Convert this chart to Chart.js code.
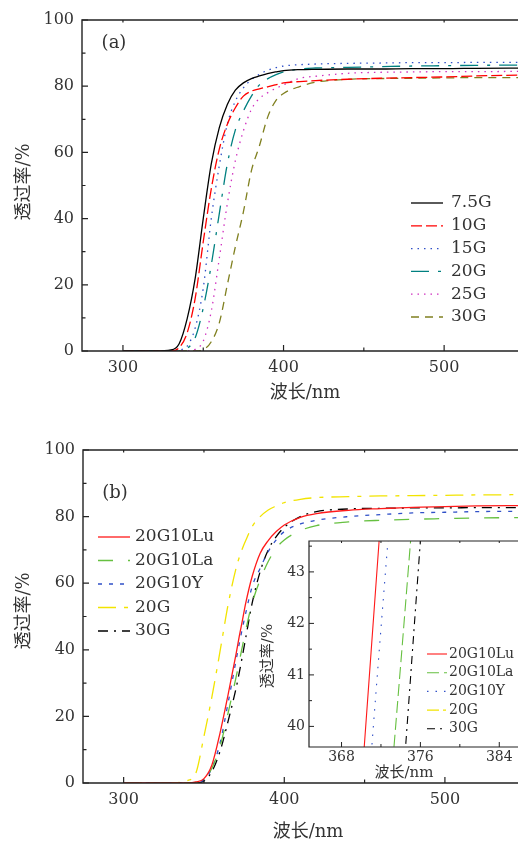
<!DOCTYPE html>
<html><head><meta charset="utf-8">
<script src="https://cdn.jsdelivr.net/npm/chart.js@4.4.1/dist/chart.umd.min.js"></script>
<style>
html,body{margin:0;padding:0;background:#fff;}
#wrap{position:relative;width:518px;height:843px;overflow:hidden;background:#fff;}
canvas{position:absolute;left:0;top:0;}
</style></head><body>
<div id="wrap">
<canvas id="ca" width="518" height="843"></canvas>
<canvas id="cb" width="518" height="843"></canvas>
<canvas id="ci" width="518" height="843"></canvas>
</div>
<script>
// ---------- data: panel (a) ----------
const wlA   = [300, 320, 330, 335, 340, 345, 350, 355, 360, 365, 370, 375, 380, 385, 390, 395, 400, 410, 420, 440, 460, 480, 500, 520, 550];
const a75G  = [0, 0, 0.3, 2.2, 9.8, 22, 40, 56.5, 67.5, 74.5, 78.8, 81, 82.3, 83.1, 83.8, 84.3, 84.7, 85.0, 85.1, 85.2, 85.2, 85.3, 85.3, 85.4, 85.5];
const a10G  = [0, 0, 0, 1, 5.5, 16, 33, 49, 61, 68.5, 73.5, 77, 78.5, 79.2, 79.8, 80.4, 81, 81.4, 81.7, 82.1, 82.4, 82.6, 82.8, 83.1, 83.4];
const a15G  = [0, 0, 0, 0.3, 1.5, 7, 19, 40, 56, 68.5, 75.5, 79.5, 82, 83.6, 84.8, 85.6, 86.1, 86.5, 86.7, 86.9, 87, 87.1, 87.1, 87.2, 87.2];
const a20G  = [0, 0, 0, 0, 0.8, 4, 13, 26, 41.5, 56.5, 66.8, 72.5, 77, 80.4, 82.2, 83.4, 84.3, 85.2, 85.5, 85.7, 85.9, 86.1, 86.2, 86.3, 86.4];
const a25G  = [0, 0, 0, 0, 0, 0.5, 3, 12, 28, 44.5, 57.5, 66.5, 73, 76.3, 78, 79.3, 80.4, 82.4, 83, 83.9, 84.2, 84.3, 84.4, 84.4, 84.5];
const a30G  = [0, 0, 0, 0, 0, 0, 0.4, 2.8, 8.5, 20, 31.5, 42, 54.5, 62, 70.5, 75.5, 77.8, 79.9, 81.2, 82.1, 82.3, 82.4, 82.5, 82.6, 82.6];
const labelsA = ['7.5G', '10G', '15G', '20G', '25G', '30G'];

// ---------- data: panel (b) ----------
const wlB    = [300, 320, 330, 340, 345, 350, 355, 360, 365, 370, 372, 374, 376, 380, 385, 390, 395, 400, 410, 420, 440, 460, 480, 500, 520, 550];
const bLu    = [0, 0, 0, 0, 0.3, 1.3, 5.5, 15, 26.5, 38.8, 44.1, 49, 54, 62, 69, 72.8, 75.5, 77.5, 79.8, 80.9, 81.9, 82.4, 82.8, 83, 83.2, 83.3];
const bLa    = [0, 0, 0, 0, 0.2, 1.2, 4.5, 11, 21, 31.8, 36.5, 41.2, 45.9, 54, 61, 66.5, 70.5, 73, 75.8, 77.3, 78.4, 78.9, 79.2, 79.4, 79.6, 79.7];
const bY     = [0, 0, 0, 0, 0.2, 1, 4.5, 12, 24, 36.9, 41.9, 46.6, 51, 59, 64.5, 69.5, 73, 75.5, 77.8, 78.9, 80, 80.6, 81.1, 81.3, 81.5, 81.6];
const b20G   = [0, 0, 0.1, 0.8, 3, 14, 26, 39.5, 53.5, 64.5, 67.8, 70.5, 72.8, 77, 80, 82, 83.2, 84.2, 85.2, 85.7, 86, 86.2, 86.3, 86.4, 86.5, 86.6];
const b30G   = [0, 0, 0, 0, 0, 0.6, 3.5, 9.5, 18.5, 28.5, 33.2, 38.3, 43.6, 54, 63.5, 70, 74, 76.8, 80, 81.5, 82.3, 82.5, 82.6, 82.6, 82.7, 82.7];
const labelsB = ['20G10Lu', '20G10La', '20G10Y', '20G', '30G'];

// ---------- ticks ----------
const xTicks = [300, 400, 500];
const xMinor = [350, 450];
const yTicks = [0, 20, 40, 60, 80, 100];
const yMinor = [10, 30, 50, 70, 90];
const inXTicks = [368, 376, 384];
const inXMinor = [372, 380];
const inYTicks = [40, 41, 42, 43];
const inYMinor = [40.5, 41.5, 42.5, 43.5];

const xTitle = '波长/nm';
const yTitle = '透过率/%';

const FONT = "'DejaVu Serif', 'Noto Sans CJK SC', serif";
const TXT = '#333';
const AX = '#222';

function xy(xs, ys) { return xs.map((x, i) => ({ x: x, y: ys[i] })); }

// frame + inward ticks drawn through the scales
const framePlugin = {
  id: 'frame',
  afterDatasetsDraw(chart, args, o) {
    const { ctx, chartArea: a } = chart;
    const sx = chart.scales.x, sy = chart.scales.y;
    ctx.save();
    ctx.strokeStyle = AX; ctx.lineWidth = o.lw; ctx.setLineDash([]);
    ctx.beginPath();
    ctx.moveTo(a.right + 2, a.top); ctx.lineTo(a.left, a.top);
    ctx.lineTo(a.left, a.bottom); ctx.lineTo(a.right + 2, a.bottom);
    ctx.stroke();
    ctx.lineWidth = o.tw;
    ctx.beginPath();
    o.xMajor.forEach(v => { const p = sx.getPixelForValue(v);
      ctx.moveTo(p, a.bottom); ctx.lineTo(p, a.bottom - o.major);
      ctx.moveTo(p, a.top); ctx.lineTo(p, a.top + o.top); });
    o.xMinor.forEach(v => { const p = sx.getPixelForValue(v);
      ctx.moveTo(p, a.bottom); ctx.lineTo(p, a.bottom - o.minor);
      ctx.moveTo(p, a.top); ctx.lineTo(p, a.top + o.top); });
    o.yMajor.forEach(v => { const p = sy.getPixelForValue(v);
      ctx.moveTo(a.left, p); ctx.lineTo(a.left + o.major, p); });
    o.yMinor.forEach(v => { const p = sy.getPixelForValue(v);
      ctx.moveTo(a.left, p); ctx.lineTo(a.left + o.minor, p); });
    ctx.stroke();
    ctx.restore();
  }
};

// legend drawn inside the plot from dataset styles
const legendPlugin = {
  id: 'inLegend',
  afterDraw(chart, args, o) {
    const ctx = chart.ctx;
    ctx.save();
    chart.data.datasets.forEach((ds, i) => {
      const y = o.y + i * o.gap;
      ctx.strokeStyle = ds.borderColor; ctx.lineWidth = ds.borderWidth;
      ctx.setLineDash(ds.borderDash || []);
      ctx.beginPath(); ctx.moveTo(o.x, y); ctx.lineTo(o.x + o.len, y); ctx.stroke();
      ctx.setLineDash([]);
      ctx.fillStyle = TXT; ctx.font = o.size + 'px ' + FONT;
      ctx.textBaseline = 'middle'; ctx.textAlign = 'left';
      ctx.fillText(ds.label, o.x + o.len + o.pad, y);
    });
    ctx.restore();
  }
};

// panel tag and axis titles
const textPlugin = {
  id: 'texts',
  afterDraw(chart, args, o) {
    const ctx = chart.ctx;
    (o.items || []).forEach(t => {
      ctx.save();
      ctx.fillStyle = TXT; ctx.font = t.size + 'px ' + FONT;
      ctx.textAlign = 'center'; ctx.textBaseline = 'middle';
      ctx.translate(t.x, t.y);
      if (t.rot) ctx.rotate(-Math.PI / 2);
      ctx.fillText(t.text, 0, 0);
      ctx.restore();
    });
  }
};

const bgPlugin = {
  id: 'areaBg',
  beforeDatasetsDraw(chart, args, o) {
    if (!o.fill) return;
    const { ctx, chartArea: a } = chart;
    ctx.save(); ctx.fillStyle = '#fff';
    ctx.fillRect(a.left, a.top, a.right - a.left, a.bottom - a.top);
    ctx.restore();
  }
};

function makeChart(id, c) {
  return new Chart(document.getElementById(id), {
    type: 'line',
    data: { datasets: c.datasets },
    plugins: [bgPlugin, framePlugin, legendPlugin, textPlugin],
    options: {
      responsive: false, animation: false, devicePixelRatio: 1,
      layout: { padding: c.pad },
      elements: { point: { radius: 0 }, line: { cubicInterpolationMode: 'monotone' } },
      plugins: {
        legend: { display: false }, tooltip: { enabled: false },
        frame: c.frame, inLegend: c.legend, texts: { items: c.texts }, areaBg: { fill: !!c.fill }
      },
      scales: {
        x: {
          type: 'linear', min: c.xmin, max: c.xmax,
          afterBuildTicks: s => { s.ticks = c.xt.map(v => ({ value: v })); },
          afterFit: s => { s.height = c.xh; },
          grid: { display: false, drawTicks: false }, border: { display: false },
          ticks: { font: { family: FONT, size: c.tf }, color: TXT, padding: c.xpad, maxRotation: 0, autoSkip: false, callback: v => String(v) },
          title: { display: false }
        },
        y: {
          type: 'linear', min: c.ymin, max: c.ymax,
          afterBuildTicks: s => { s.ticks = c.yt.map(v => ({ value: v })); },
          afterFit: s => { s.width = c.yw; },
          grid: { display: false, drawTicks: false }, border: { display: false },
          ticks: { font: { family: FONT, size: c.tf }, color: TXT, padding: c.ypad, autoSkip: false, callback: v => String(v) },
          title: { display: false }
        }
      }
    }
  });
}

const LW = 1.3, LWI = 1.1;

// ---------- panel (a) ----------
const stylesA = [
  { c: '#000000', d: [] },
  { c: '#ff0000', d: [11, 4] },
  { c: '#3050c8', d: [1.5, 5] },
  { c: '#008080', d: [18, 9, 3, 9] },
  { c: '#d030c0', d: [1.5, 5] },
  { c: '#808020', d: [8, 6] }
];
const seriesA = [a75G, a10G, a15G, a20G, a25G, a30G];
makeChart('ca', {
  datasets: seriesA.map((s, i) => ({ label: labelsA[i], data: xy(wlA, s), borderColor: stylesA[i].c, borderDash: stylesA[i].d, borderWidth: LW, fill: false })),
  pad: { left: 0, top: 20, right: 0, bottom: 423 },
  xmin: 274.5, xmax: 546, ymin: 0, ymax: 100, xt: xTicks, yt: yTicks,
  xh: 69, yw: 82, tf: 16, xpad: 7, ypad: 8,
  frame: { lw: 1.4, tw: 1.2, major: 6, minor: 3.5, top: 2.5, xMajor: xTicks, xMinor: xMinor, yMajor: yTicks, yMinor: yMinor },
  legend: { x: 411, y: 203, gap: 22.8, len: 32, pad: 8, size: 17 },
  texts: [
    { text: '(a)', x: 114, y: 43, size: 18 },
    { text: xTitle, x: 305, y: 393, size: 18 },
    { text: yTitle, x: 24, y: 182, size: 18, rot: true }
  ]
});

// ---------- panel (b) ----------
const stylesB = [
  { c: '#ff1a1a', d: [] },
  { c: '#66c040', d: [15, 15] },
  { c: '#3050c8', d: [4, 7] },
  { c: '#f2e400', d: [18, 8, 4, 8] },
  { c: '#000000', d: [10, 6, 2, 6] }
];
const stylesI = [
  { c: '#ff1a1a', d: [] },
  { c: '#66c040', d: [12, 5] },
  { c: '#3050c8', d: [1.5, 7] },
  { c: '#f2e400', d: [12, 4, 3, 4] },
  { c: '#000000', d: [8, 5, 2, 5] }
];
const seriesB = [bLu, bLa, bY, b20G, b30G];
makeChart('cb', {
  datasets: seriesB.map((s, i) => ({ label: labelsB[i], data: xy(wlB, s), borderColor: stylesB[i].c, borderDash: stylesB[i].d, borderWidth: LW, fill: false })),
  pad: { left: 0, top: 450, right: 0, bottom: 0 },
  xmin: 274.7, xmax: 545.5, ymin: 0, ymax: 100, xt: xTicks, yt: yTicks,
  xh: 60, yw: 83, tf: 16, xpad: 7, ypad: 8,
  frame: { lw: 1.4, tw: 1.2, major: 6, minor: 3.5, top: 2.5, xMajor: xTicks, xMinor: xMinor, yMajor: yTicks, yMinor: yMinor },
  legend: { x: 98, y: 537, gap: 23.5, len: 32, pad: 5, size: 17 },
  texts: [
    { text: '(b)', x: 115, y: 493, size: 18 },
    { text: xTitle, x: 308, y: 832, size: 18 },
    { text: yTitle, x: 24, y: 611, size: 18, rot: true }
  ]
});

// ---------- inset ----------
makeChart('ci', {
  datasets: seriesB.map((s, i) => ({ label: labelsB[i], data: xy(wlB, s), borderColor: stylesI[i].c, borderDash: stylesI[i].d, borderWidth: LWI, fill: false })),
  pad: { left: 250, top: 541, right: 0, bottom: 53 },
  xmin: 364.7, xmax: 385.9, ymin: 39.6, ymax: 43.6, xt: inXTicks, yt: inYTicks,
  xh: 43, yw: 59, tf: 14, xpad: 2, ypad: 4,
  frame: { lw: 1.2, tw: 1.0, major: 5, minor: 3, top: 2, xMajor: inXTicks, xMinor: inXMinor, yMajor: inYTicks, yMinor: inYMinor },
  legend: { x: 427, y: 654, gap: 18.7, len: 20, pad: 2, size: 14 },
  texts: [
    { text: xTitle, x: 404, y: 773, size: 15 },
    { text: yTitle, x: 268, y: 656, size: 15, rot: true }
  ],
  fill: true
});
</script>
</body></html>
